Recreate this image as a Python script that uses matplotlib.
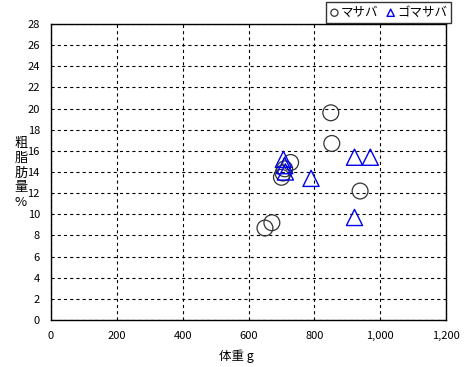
import numpy as np
import matplotlib
matplotlib.use('Agg')
import matplotlib.pyplot as plt
from matplotlib.ticker import FuncFormatter

plt.rcParams['font.family'] = ['Noto Sans CJK JP', 'DejaVu Sans']

# マサバ (体重 g, 粗脂肪量 %)
masaba_w = [850, 853, 728, 705, 700, 710, 939, 671, 650]
masaba_f = [19.6, 16.7, 14.9, 13.9, 13.5, 14.3, 12.2, 9.2, 8.7]
# ゴマサバ
goma_w = [706, 710, 712, 790, 922, 970, 922]
goma_f = [15.2, 14.6, 14.0, 13.4, 15.4, 15.4, 9.7]

fig = plt.figure(figsize=(4.68, 3.67), dpi=100)
ax = fig.add_axes([51/468, 1 - 320/367, 395/468, 296/367])

ax.scatter(masaba_w, masaba_f, s=130, marker='o', facecolors='none',
           edgecolors='#333333', linewidths=0.9, label='マサバ', zorder=3)
ax.scatter(goma_w, goma_f, s=135, marker='^', facecolors='none',
           edgecolors='#0000ee', linewidths=1.0, label='ゴマサバ', zorder=3)

ax.set_xlim(0, 1200)
ax.set_ylim(0, 28)
ax.set_xticks(np.arange(0, 1201, 200))
ax.set_yticks(np.arange(0, 29, 2))
ax.xaxis.set_major_formatter(FuncFormatter(lambda v, p: f'{int(v):,}'))
ax.tick_params(length=0, labelsize=8, pad=8)
ax.grid(True, color='black', linestyle=(0, (2.8, 2.8)), linewidth=0.8)
for s in ax.spines.values():
    s.set_linewidth(1.0)

ax.set_xlabel('体重 g', fontsize=9, labelpad=2)
ax.xaxis.set_label_coords(0.47, -0.1)
fig.text(21/468, 1 - 173/367, '粗\n脂\n肪\n量\n%', fontsize=9.5, ha='center',
         va='center', linespacing=1.15)

leg = ax.legend(loc='lower right', bbox_to_anchor=(1.015, 1.0), ncol=2,
                fontsize=9, frameon=True, fancybox=False, edgecolor='black',
                handletextpad=0.1, columnspacing=0.6, markerscale=0.45,
                borderpad=0.3, handlelength=0.8, borderaxespad=0.1)
leg.get_frame().set_linewidth(1.0)

fig.savefig('out.png', dpi=100)
